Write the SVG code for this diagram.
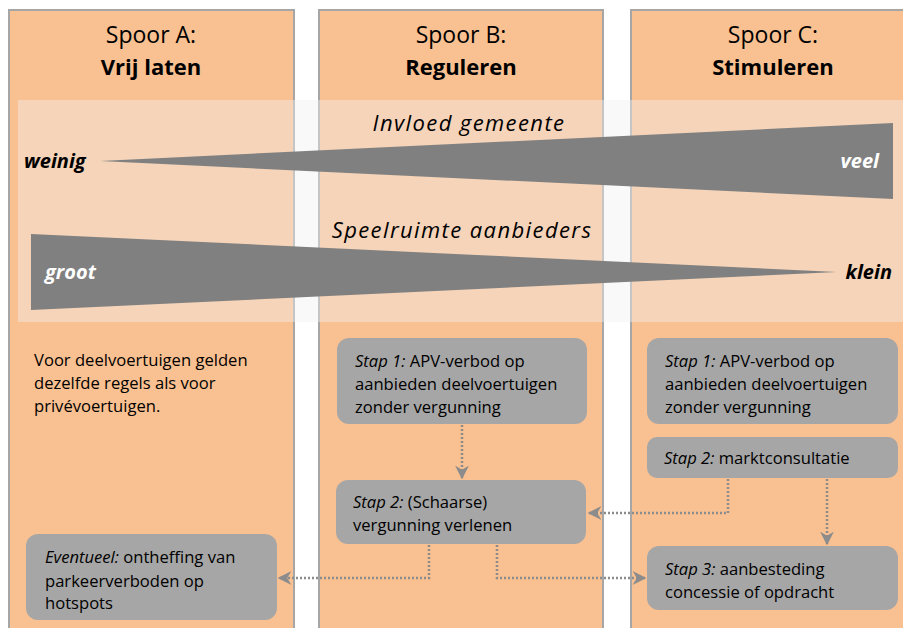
<svg xmlns="http://www.w3.org/2000/svg" width="903" height="628" viewBox="0 0 903 628">
  <style>
    .lane { fill: #f9c091; stroke: #a6a6a6; stroke-width: 2; }
    .band { fill: #f0f0f0; fill-opacity: 0.42; }
    .wedge { fill: #808080; }
    .head { font-family: "Open Sans", "Noto Sans", sans-serif; font-size: 23px; fill: #000; text-anchor: middle; }
    .headb { font-family: "Open Sans", "Noto Sans", sans-serif; font-size: 22px; font-weight: bold; fill: #000; text-anchor: middle; }
    .scale { font-family: "Open Sans", "Noto Sans", sans-serif; font-size: 22px; font-style: italic; letter-spacing: 1.4px; fill: #000; text-anchor: middle; }
    .end { font-family: "Open Sans", "Noto Sans", sans-serif; font-size: 20px; font-style: italic; font-weight: bold; }
    .box { fill: #a6a6a6; }
    .txt { font-family: "Open Sans", "Noto Sans", sans-serif; font-size: 16.6px; fill: #000; }
    .it { font-style: italic; }
    .conn { fill: none; stroke: #8c8c8c; stroke-width: 2.5; stroke-dasharray: 2 2; marker-end: url(#arrow); }
  </style>
  <defs>
    <marker id="arrow" viewBox="0 0 10 10" refX="9" refY="5" markerWidth="5.5" markerHeight="5.5" orient="auto" markerUnits="strokeWidth">
      <path d="M0,0 L10,5 L0,10 L3,5 z" fill="#8c8c8c"/>
    </marker>
  </defs>

  <!-- three lanes -->
  <g id="lane-a">
    <rect class="lane" x="9" y="10" width="285" height="630"/>
    <text class="head" x="151" y="43">Spoor A:</text>
    <text class="headb" x="151" y="75">Vrij laten</text>
  </g>
  <g id="lane-b">
    <rect class="lane" x="319" y="10" width="284" height="630"/>
    <text class="head" x="461" y="43">Spoor B:</text>
    <text class="headb" x="461" y="75">Reguleren</text>
  </g>
  <g id="lane-c">
    <rect class="lane" x="631" y="10" width="290" height="630"/>
    <text class="head" x="773" y="43">Spoor C:</text>
    <text class="headb" x="773" y="75">Stimuleren</text>
  </g>

  <!-- translucent band with the two wedges -->
  <g id="scales">
    <rect class="band" x="18" y="100" width="890" height="222"/>
    <text class="scale" x="469" y="131">Invloed gemeente</text>
    <polygon class="wedge" points="100,161 893,123 893,199"/>
    <text class="end" x="24" y="168" fill="#000">weinig</text>
    <text class="end" x="879" y="168" fill="#fff" text-anchor="end">veel</text>
    <text class="scale" x="462" y="238">Speelruimte aanbieders</text>
    <polygon class="wedge" points="31,234 31,310 837,272"/>
    <text class="end" x="45" y="279" fill="#fff">groot</text>
    <text class="end" x="892" y="279" fill="#000" text-anchor="end">klein</text>
  </g>

  <!-- lane A note -->
  <g id="note-a">
    <text class="txt" x="34" y="366">Voor deelvoertuigen gelden</text>
    <text class="txt" x="34" y="389">dezelfde regels als voor</text>
    <text class="txt" x="34" y="412">privévoertuigen.</text>
  </g>

  <!-- step boxes -->
  <g id="a-eventueel">
    <rect class="box" x="26" y="534" width="251" height="86" rx="12"/>
    <text class="txt" x="45" y="563"><tspan class="it">Eventueel:</tspan>  ontheffing van</text>
    <text class="txt" x="45" y="587">parkeerverboden op</text>
    <text class="txt" x="45" y="609">hotspots</text>
  </g>
  <g id="b-stap1">
    <rect class="box" x="337" y="338" width="250" height="86" rx="12"/>
    <text class="txt" x="355" y="367"><tspan class="it">Stap 1:</tspan> APV-verbod op</text>
    <text class="txt" x="355" y="390">aanbieden deelvoertuigen</text>
    <text class="txt" x="355" y="413">zonder vergunning</text>
  </g>
  <g id="b-stap2">
    <rect class="box" x="336" y="480" width="250" height="64" rx="12"/>
    <text class="txt" x="353" y="508"><tspan class="it">Stap 2:</tspan> (Schaarse)</text>
    <text class="txt" x="353" y="531">vergunning verlenen</text>
  </g>
  <g id="c-stap1">
    <rect class="box" x="647" y="338" width="251" height="86" rx="12"/>
    <text class="txt" x="665" y="367"><tspan class="it">Stap 1:</tspan> APV-verbod op</text>
    <text class="txt" x="665" y="390">aanbieden deelvoertuigen</text>
    <text class="txt" x="665" y="413">zonder vergunning</text>
  </g>
  <g id="c-stap2">
    <rect class="box" x="647" y="437" width="251" height="41" rx="10"/>
    <text class="txt" x="664" y="464"><tspan class="it">Stap 2:</tspan> marktconsultatie</text>
  </g>
  <g id="c-stap3">
    <rect class="box" x="647" y="546" width="251" height="64" rx="12"/>
    <text class="txt" x="665" y="575"><tspan class="it">Stap 3:</tspan> aanbesteding</text>
    <text class="txt" x="665" y="598">concessie of opdracht</text>
  </g>

  <!-- dotted connectors -->
  <g id="connectors">
    <path class="conn" d="M462,425 L462,478"/>
    <path class="conn" d="M728,479 L728,513 L589,513"/>
    <path class="conn" d="M827,479 L827,544"/>
    <path class="conn" d="M429,545 L429,578 L279,578"/>
    <path class="conn" d="M497,545 L497,578 L645,578"/>
  </g>
</svg>
